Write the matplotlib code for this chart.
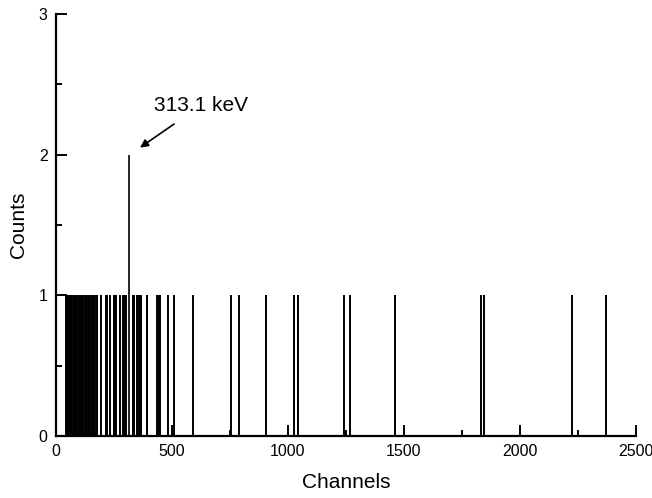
import numpy as np
import matplotlib
matplotlib.use("Agg")
import matplotlib.pyplot as plt
from matplotlib.ticker import MultipleLocator

plt.rcParams['font.family'] = ['Liberation Sans', 'DejaVu Sans']

# Channels holding a single count
single_channels = [
    42, 45, 47, 51, 55, 59, 66, 70, 78, 82, 86, 92, 100, 103, 106, 112,
    118, 123, 127, 131, 137, 143, 148, 154, 159, 168, 178, 193, 214, 219,
    231, 248, 254, 259, 274, 289, 297, 302, 330, 334, 349, 355, 360, 365,
    391, 437, 442, 448, 481, 510, 592,
    754, 787, 905, 1027, 1042, 1241, 1268, 1461, 1832, 1845, 2227, 2373,
]
# The one channel with two counts
peak_channel = 313
peak_counts = 2
peak_label = "313.1 keV"

fig = plt.figure(figsize=(6.52, 4.98), dpi=100)
ax = fig.add_axes([0.086, 0.1245, 0.889, 0.8475])

ax.vlines(single_channels, 0, 1, colors='black', linewidth=1.4)
ax.vlines([peak_channel], 0, peak_counts, colors='black', linewidth=1.2)

ax.set_xlim(0, 2500)
ax.set_ylim(0, 3)
ax.xaxis.set_major_locator(MultipleLocator(500))
ax.xaxis.set_minor_locator(MultipleLocator(250))
ax.yaxis.set_major_locator(MultipleLocator(1))
ax.yaxis.set_minor_locator(MultipleLocator(0.5))
ax.tick_params(which='major', direction='in', length=8, width=1.4, labelsize=11.5, pad=6)
ax.tick_params(which='minor', direction='in', length=4, width=1.4)

for side in ['top', 'right']:
    ax.spines[side].set_visible(False)
for side in ['left', 'bottom']:
    ax.spines[side].set_linewidth(1.6)

ax.set_xlabel("Channels", fontsize=15, labelpad=10)
ax.set_ylabel("Counts", fontsize=15, labelpad=8)

ax.annotate(peak_label, xy=(362, 2.05), xytext=(625, 2.35),
            fontsize=15, ha='center', va='center',
            arrowprops=dict(arrowstyle='-|>', color='black', lw=1.2,
                            mutation_scale=12, shrinkA=8, shrinkB=0))

fig.savefig("out.png", dpi=100)
